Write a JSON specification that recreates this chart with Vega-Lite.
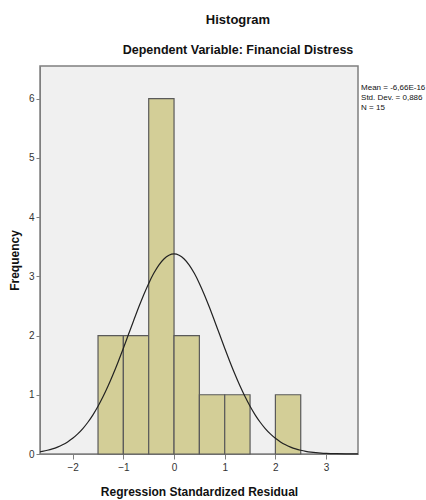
{
  "$schema": "https://vega.github.io/schema/vega-lite/v6.json",
  "autosize": {"type": "none"},
  "width": 318,
  "height": 388,
  "padding": {"left": 40, "top": 66, "right": 68, "bottom": 46},
  "background": "white",
  "config": {
    "font": "Liberation Sans, Arial",
    "view": {"fill": "#F0F0F0", "stroke": "#7f7f7f", "strokeWidth": 1.5},
    "axis": {"grid": false, "domainColor": "#7f7f7f", "tickColor": "#7f7f7f", "labelColor": "#333", "labelFontSize": 10, "titleFontWeight": "bold", "titleColor": "#111"}
  },
  "title": {
    "text": "Histogram",
    "subtitle": "Dependent Variable: Financial Distress",
    "anchor": "middle",
    "dx": 39,
    "fontSize": 13,
    "fontWeight": "bold",
    "color": "#111",
    "subtitleFontSize": 12.5,
    "subtitleFontWeight": "bold",
    "subtitleColor": "#111",
    "subtitlePadding": 17,
    "offset": 10
  },
  "datasets": {
    "bins": [
      {"bin_start": -1.5, "bin_end": -1.0, "count": 2},
      {"bin_start": -1.0, "bin_end": -0.5, "count": 2},
      {"bin_start": -0.5, "bin_end": 0.0, "count": 6},
      {"bin_start": 0.0, "bin_end": 0.5, "count": 2},
      {"bin_start": 0.5, "bin_end": 1.0, "count": 1},
      {"bin_start": 1.0, "bin_end": 1.5, "count": 1},
      {"bin_start": 2.0, "bin_end": 2.5, "count": 1}
    ],
    "curve": [
      {"x": -2.645, "y": 0.0385},
      {"x": -2.6, "y": 0.0455},
      {"x": -2.5, "y": 0.0631},
      {"x": -2.4, "y": 0.0861},
      {"x": -2.3, "y": 0.1162},
      {"x": -2.2, "y": 0.1548},
      {"x": -2.1, "y": 0.2035},
      {"x": -2.0, "y": 0.2643},
      {"x": -1.9, "y": 0.3388},
      {"x": -1.8, "y": 0.4288},
      {"x": -1.7, "y": 0.5358},
      {"x": -1.6, "y": 0.6612},
      {"x": -1.5, "y": 0.8056},
      {"x": -1.4, "y": 0.9691},
      {"x": -1.3, "y": 1.1509},
      {"x": -1.2, "y": 1.3496},
      {"x": -1.1, "y": 1.5626},
      {"x": -1.0, "y": 1.7863},
      {"x": -0.9, "y": 2.016},
      {"x": -0.8, "y": 2.2465},
      {"x": -0.7, "y": 2.4717},
      {"x": -0.6, "y": 2.685},
      {"x": -0.5, "y": 2.88},
      {"x": -0.4, "y": 3.0499},
      {"x": -0.3, "y": 3.189},
      {"x": -0.2, "y": 3.2921},
      {"x": -0.1, "y": 3.3556},
      {"x": 0.0, "y": 3.3771},
      {"x": 0.1, "y": 3.3556},
      {"x": 0.2, "y": 3.2921},
      {"x": 0.3, "y": 3.189},
      {"x": 0.4, "y": 3.0499},
      {"x": 0.5, "y": 2.88},
      {"x": 0.6, "y": 2.685},
      {"x": 0.7, "y": 2.4717},
      {"x": 0.8, "y": 2.2465},
      {"x": 0.9, "y": 2.016},
      {"x": 1.0, "y": 1.7863},
      {"x": 1.1, "y": 1.5626},
      {"x": 1.2, "y": 1.3496},
      {"x": 1.3, "y": 1.1509},
      {"x": 1.4, "y": 0.9691},
      {"x": 1.5, "y": 0.8056},
      {"x": 1.6, "y": 0.6612},
      {"x": 1.7, "y": 0.5358},
      {"x": 1.8, "y": 0.4288},
      {"x": 1.9, "y": 0.3388},
      {"x": 2.0, "y": 0.2643},
      {"x": 2.1, "y": 0.2035},
      {"x": 2.2, "y": 0.1548},
      {"x": 2.3, "y": 0.1162},
      {"x": 2.4, "y": 0.0861},
      {"x": 2.5, "y": 0.0631},
      {"x": 2.6, "y": 0.0455},
      {"x": 2.7, "y": 0.0325},
      {"x": 2.8, "y": 0.0229},
      {"x": 2.9, "y": 0.0159},
      {"x": 3.0, "y": 0.0109},
      {"x": 3.2, "y": 0.005},
      {"x": 3.4, "y": 0.0021},
      {"x": 3.63, "y": 0.0008}
    ],
    "stats": [
      {"mean": "Mean = -6,66E-16", "sd": "Std. Dev. = 0,886", "n": "N = 15"}
    ]
  },
  "layer": [
    {
      "data": {"name": "bins"},
      "mark": {"type": "rect", "fill": "#D3CE97", "stroke": "#5a5a5a", "strokeWidth": 1.2},
      "encoding": {
        "x": {"field": "bin_start", "type": "quantitative",
              "scale": {"domain": [-2.645, 3.63], "nice": false, "zero": false},
              "axis": {"values": [-2, -1, 0, 1, 2, 3], "title": "Regression Standardized Residual", "titleFontSize": 12, "titlePadding": 14, "tickSize": 5, "labelPadding": 3}},
        "x2": {"field": "bin_end"},
        "y": {"field": "count", "type": "quantitative",
              "scale": {"domain": [0, 6.55], "nice": false},
              "axis": {"values": [0, 1, 2, 3, 4, 5, 6], "format": "d", "title": "Frequency", "titleFontSize": 12, "titlePadding": 7, "tickSize": 4, "labelPadding": 2, "titleLetterSpacing": 1.5}},
        "y2": {"datum": 0}
      }
    },
    {
      "data": {"name": "curve"},
      "mark": {"type": "line", "color": "#222", "strokeWidth": 1.2, "interpolate": "monotone"},
      "encoding": {
        "x": {"field": "x", "type": "quantitative"},
        "y": {"field": "y", "type": "quantitative"}
      }
    },
    {
      "data": {"name": "stats"},
      "mark": {"type": "text", "align": "left", "baseline": "middle", "fontSize": 8, "color": "#111", "clip": false},
      "encoding": {
        "x": {"datum": 3.69},
        "y": {"datum": 6.18},
        "text": {"field": "mean"}
      }
    },
    {
      "data": {"name": "stats"},
      "mark": {"type": "text", "align": "left", "baseline": "middle", "fontSize": 8, "color": "#111", "clip": false},
      "encoding": {
        "x": {"datum": 3.69},
        "y": {"datum": 6.01},
        "text": {"field": "sd"}
      }
    },
    {
      "data": {"name": "stats"},
      "mark": {"type": "text", "align": "left", "baseline": "middle", "fontSize": 8, "color": "#111", "clip": false},
      "encoding": {
        "x": {"datum": 3.69},
        "y": {"datum": 5.84},
        "text": {"field": "n"}
      }
    }
  ]
}
